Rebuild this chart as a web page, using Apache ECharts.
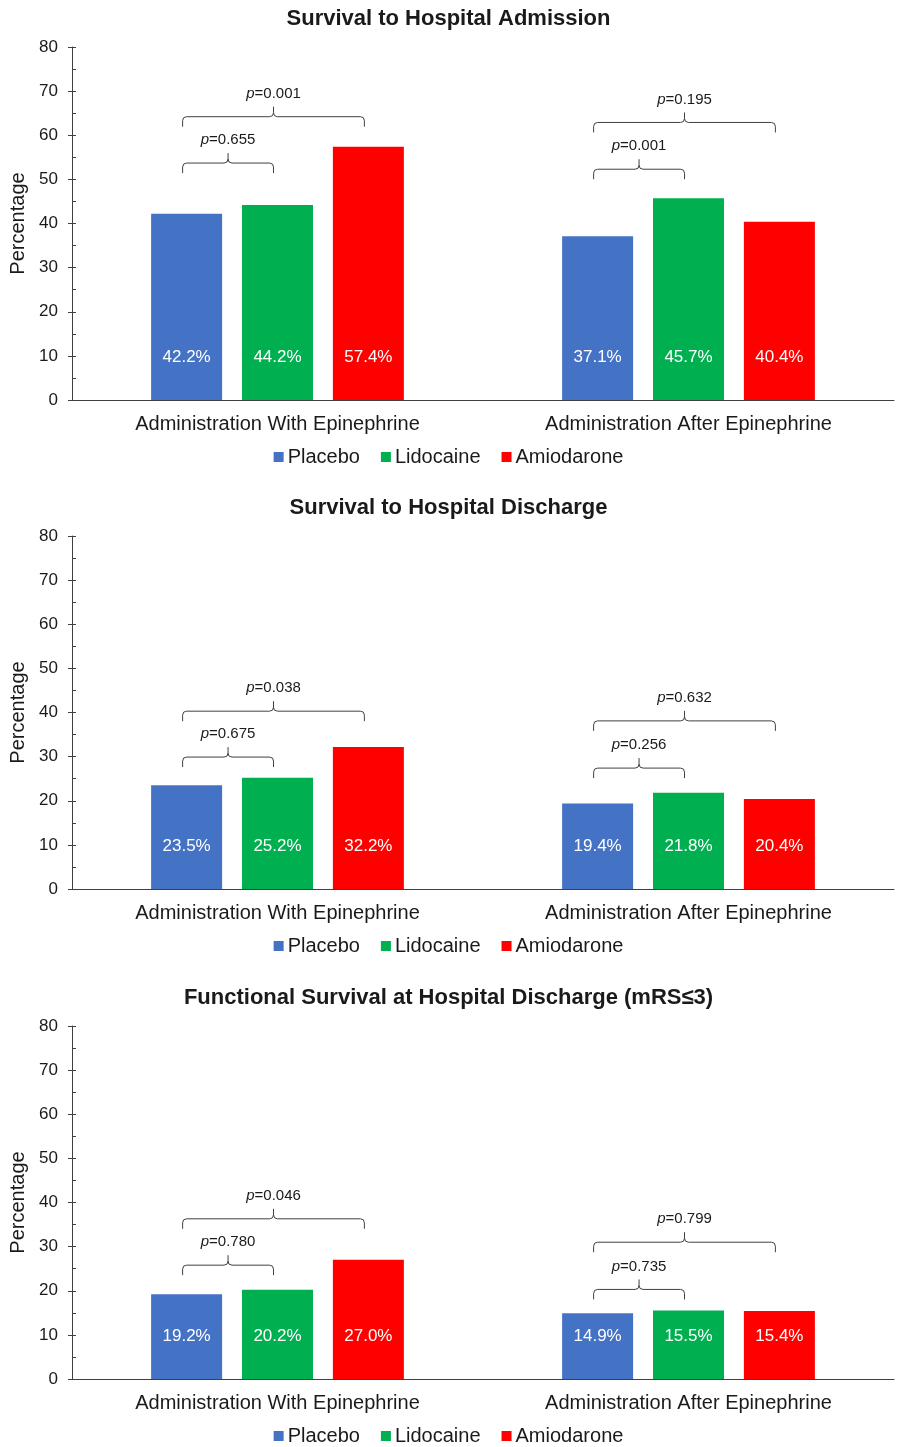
<!DOCTYPE html>
<html>
<head>
<meta charset="utf-8">
<title>Survival outcomes by treatment</title>
<script src="https://cdn.jsdelivr.net/npm/echarts@6/dist/echarts.min.js"></script>
<style>
  html, body { margin: 0; padding: 0; background: #fff; }
  #chart { width: 897px; height: 1447px; }
</style>
</head>
<body>
<div id="chart"></div>
<script>
// Categories and series names
const groups = ['Administration With Epinephrine', 'Administration After Epinephrine'];
const drugs = ['Placebo', 'Lidocaine', 'Amiodarone'];
const drugColors = ['#4472C4', '#00B050', '#FF0000'];
const panelTitles = [
  'Survival to Hospital Admission',
  'Survival to Hospital Discharge',
  'Functional Survival at Hospital Discharge (mRS\u22643)'
];

// Percentages per drug, [with epinephrine, after epinephrine]
const admissionPlacebo = [42.2, 37.1];
const admissionLidocaine = [44.2, 45.7];
const admissionAmiodarone = [57.4, 40.4];

const dischargePlacebo = [23.5, 19.4];
const dischargeLidocaine = [25.2, 21.8];
const dischargeAmiodarone = [32.2, 20.4];

const functionalPlacebo = [19.2, 14.9];
const functionalLidocaine = [20.2, 15.5];
const functionalAmiodarone = [27.0, 15.4];

// Comparisons vs placebo: [group index, compared drug index, bracket level (%), p-value]
const admissionBrackets = [[0, 1, 53.7, '0.655'], [0, 2, 64.2, '0.001'], [1, 1, 52.3, '0.001'], [1, 2, 62.9, '0.195']];
const dischargeBrackets = [[0, 1, 29.9, '0.675'], [0, 2, 40.3, '0.038'], [1, 1, 27.4, '0.256'], [1, 2, 38.1, '0.632']];
const functionalBrackets = [[0, 1, 25.8, '0.780'], [0, 2, 36.3, '0.046'], [1, 1, 20.3, '0.735'], [1, 2, 31.0, '0.799']];

// Y axis ticks
const yMin = 0, yMax = 80, yStep = 10;

const panels = [
  { values: [admissionPlacebo, admissionLidocaine, admissionAmiodarone], brackets: admissionBrackets },
  { values: [dischargePlacebo, dischargeLidocaine, dischargeAmiodarone], brackets: dischargeBrackets },
  { values: [functionalPlacebo, functionalLidocaine, functionalAmiodarone], brackets: functionalBrackets }
];

const FONT = '"Liberation Sans", Arial, Helvetica, sans-serif';
const INK = '#1a1a1a';
const AXIS = '#404040';
const BAR_W = 71;
const BAR_GAP = 0.28;
const BRACKET_SHIFT = -4;
const gridTops = [47, 536, 1026];
const gridH = 353;

const chart = echarts.init(document.getElementById('chart'), null, { renderer: 'canvas' });

const option = {
  animation: false,
  backgroundColor: '#fff',
  textStyle: { fontFamily: FONT, color: INK },
  title: [], legend: [], grid: [], xAxis: [], yAxis: [], series: []
};

// Curly bracket connecting placebo to the compared bar, with its p-value above
function bracketRenderer(brackets) {
  return function (params, api) {
    const b = brackets[params.dataIndex];
    const c = api.coord([b[0], b[2]]);
    const step = BAR_W * (1 + BAR_GAP);
    const x1 = c[0] - step + BRACKET_SHIFT;
    const x2 = c[0] + (b[1] - 1) * step + BRACKET_SHIFT;
    const xm = (x1 + x2) / 2;
    const y = c[1];
    const r = 4, arm = 10, peak = 10;
    const d = [
      'M', x1, y + arm,
      'L', x1, y + r,
      'Q', x1, y, x1 + r, y,
      'L', xm - r, y,
      'Q', xm, y, xm, y - r,
      'L', xm, y - peak,
      'M', xm, y - r,
      'Q', xm, y, xm + r, y,
      'L', x2 - r, y,
      'Q', x2, y, x2, y + r,
      'L', x2, y + arm
    ].join(' ');
    return {
      type: 'group',
      children: [
        {
          type: 'path',
          shape: { pathData: d },
          style: { fill: 'none', stroke: AXIS, lineWidth: 1 }
        },
        {
          type: 'text',
          x: xm,
          y: y - peak - 13,
          style: {
            text: '{i|p}=' + b[3],
            rich: { i: { fontStyle: 'italic', fontSize: 15, fontFamily: FONT, fill: INK } },
            fontSize: 15,
            fontFamily: FONT,
            fill: INK,
            align: 'center',
            verticalAlign: 'middle'
          }
        }
      ]
    };
  };
}

panels.forEach(function (panel, p) {
  const top = gridTops[p];
  option.title.push({
    text: panelTitles[p],
    left: 'center',
    top: top - 44,
    textStyle: { fontSize: 22, fontWeight: 'bold', color: INK, fontFamily: FONT }
  });
  option.legend.push({
    data: drugs,
    left: 'center',
    top: top + gridH + 42,
    icon: 'rect',
    itemWidth: 10,
    itemHeight: 10,
    itemGap: 21,
    textStyle: { fontSize: 20, color: INK, fontFamily: FONT, padding: [0, 0, 0, -1] }
  });
  option.grid.push({ left: 72, right: 3, top: top, height: gridH });
  option.xAxis.push({
    type: 'category',
    gridIndex: p,
    data: groups,
    axisLine: { lineStyle: { color: AXIS, width: 1 } },
    axisTick: { show: false },
    axisLabel: { fontSize: 20, color: INK, margin: 14, fontFamily: FONT },
    splitLine: { show: false }
  });
  // main value axis: labels, outward major ticks
  option.yAxis.push({
    type: 'value',
    gridIndex: p,
    min: yMin, max: yMax, interval: yStep,
    name: 'Percentage',
    nameLocation: 'middle',
    nameGap: 37,
    nameTextStyle: { fontSize: 20, color: INK, fontFamily: FONT },
    axisLine: { show: true, lineStyle: { color: AXIS, width: 1 } },
    axisTick: { show: true, length: 4, lineStyle: { color: AXIS } },
    axisLabel: { fontSize: 17, color: INK, margin: 14, fontFamily: FONT },
    splitLine: { show: false }
  });
  // overlay axis: inward major and minor ticks
  option.yAxis.push({
    type: 'value',
    gridIndex: p,
    position: 'left',
    offset: 0,
    min: yMin, max: yMax, interval: yStep,
    axisLine: { show: false },
    axisTick: { show: true, inside: true, length: 4, lineStyle: { color: AXIS } },
    minorTick: { show: true, splitNumber: 2, length: 4, lineStyle: { color: AXIS } },
    axisLabel: { show: false },
    splitLine: { show: false },
    minorSplitLine: { show: false }
  });

  panel.values.forEach(function (vals, i) {
    option.series.push({
      name: drugs[i],
      type: 'bar',
      xAxisIndex: p,
      yAxisIndex: p * 2,
      data: vals,
      barWidth: BAR_W,
      barGap: (BAR_GAP * 100) + '%',
      itemStyle: { color: drugColors[i] },
      label: {
        show: true,
        position: 'insideBottom',
        distance: 34,
        color: '#fff',
        fontSize: 17,
        fontFamily: FONT,
        formatter: function (d) { return d.value.toFixed(1) + '%'; }
      },
      emphasis: { disabled: true }
    });
  });

  option.series.push({
    type: 'custom',
    xAxisIndex: p,
    yAxisIndex: p * 2,
    silent: true,
    clip: false,
    renderItem: bracketRenderer(panel.brackets),
    data: panel.brackets.map(function (b) { return [b[0], b[2]]; }),
    encode: { x: 0, y: 1 },
    z: 5
  });
});

chart.setOption(option);
</script>
</body>
</html>
